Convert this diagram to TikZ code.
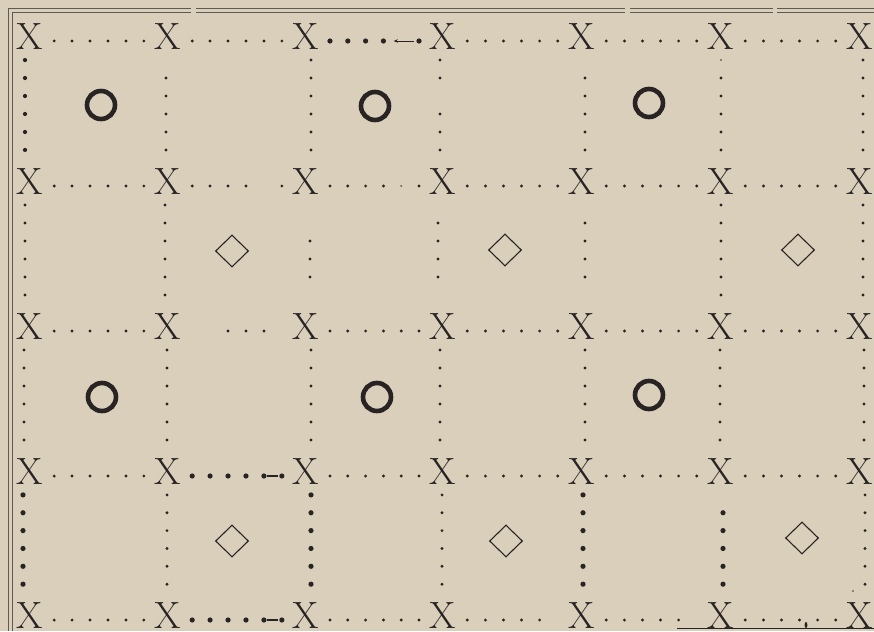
\documentclass[tikz,border=0pt]{standalone}
\usetikzlibrary{calc,arrows.meta,shapes.geometric}
\definecolor{paper}{RGB}{217,207,186}
\definecolor{ink}{RGB}{40,36,36}
\definecolor{rulecol}{RGB}{95,90,85}
% dots between two named nodes: from, to, indices, style
\newcommand\hdotline[4]{%
  \foreach \k in {#3}{\fill[#4] ($(#1)!{0.175+0.13*\k}!(#2)+(0,4)$) circle;}}
% vertical dots: from, to, indices, style, x offset
\newcommand\vdotline[5]{%
  \foreach \k in {#3}{\fill[#4] ($(#1)!{0.159+0.124*\k}!(#2)+(#5,0)$) circle;}}
\begin{document}
\begin{tikzpicture}[x=1pt,y=-1pt,
  xmark/.style={font=\fontsize{38}{40}\selectfont, inner sep=0pt, text=ink},
  ring/.style={circle, draw=ink, line width=4.6pt, minimum size=28pt, inner sep=0pt},
  lozenge/.style={diamond, draw=ink, line width=1.1pt, minimum width=33pt, minimum height=32pt, inner sep=0pt},
  dotn/.style={fill=ink, radius=1.6pt},
  dotm/.style={fill=ink, radius=2.1pt},
  dotb/.style={fill=ink, radius=2.6pt},
  dott/.style={fill=ink!60!paper, radius=1.1pt},
  border/.style={draw=rulecol, line width=0.8pt}]
\fill[paper] (0,0) rectangle (874,631);
\useasboundingbox (0,0) rectangle (874,631);
% frame
\draw[border] (8,631) -- (8,8) -- (191,8);
\draw[border] (196,8) -- (625,8);
\draw[border] (630,8) -- (773,8);
\draw[border] (777,8) -- (874,8);
\draw[border] (12,631) -- (12,12) -- (191,12);
\draw[border] (196,12) -- (625,12);
\draw[border] (630,12) -- (773,12);
\draw[border] (777,12) -- (874,12);
\draw[ink, line width=1pt] (677,628) -- (874,628);
\fill[ink] (806,625) ellipse (1.4 and 3);
% X marks
\foreach \c/\xx in {1/30,2/168,3/306,4/443,5/582,6/721,7/860}{
  \foreach \r/\yy in {1/37,2/182,3/327,4/472,5/616}{
    \node[xmark] (x\r\c) at (\xx,\yy) {X};}}
% O marks
\node[ring] (o1) at (101,105) {};
\node[ring] (o2) at (375,106) {};
\node[ring] (o3) at (649,103) {};
\node[ring] (o4) at (102,397) {};
\node[ring] (o5) at (377,397) {};
\node[ring] (o6) at (649,395) {};
% diamonds
\node[lozenge] (d1) at (232,251) {};
\node[lozenge] (d2) at (505,250) {};
\node[lozenge] (d3) at (798,250) {};
\node[lozenge] (d4) at (232,541) {};
\node[lozenge] (d5) at (506,541) {};
\node[lozenge] (d6) at (802,538) {};
% horizontal dotted rows
% row 1
\hdotline{x11}{x12}{0,...,5}{dotn}
\hdotline{x12}{x13}{0,...,5}{dotn}
\hdotline{x13}{x14}{0,1,2,3,5}{dotb}
\draw[ink, line width=0.9pt, {Stealth[length=4pt,width=3.5pt]}-] ($(x13)!0.64!(x14)+(0,4)$) -- ($(x13)!0.79!(x14)+(0,4)$);
\hdotline{x14}{x15}{0,...,5}{dotn}
\hdotline{x15}{x16}{0,...,5}{dotn}
\hdotline{x16}{x17}{0,...,5}{dotn}
% row 2
\hdotline{x21}{x22}{0,...,5}{dotn}
\hdotline{x22}{x23}{0,1,2,3,5}{dotn}
\hdotline{x23}{x24}{0,1,2,3,5}{dotn}
\hdotline{x23}{x24}{4}{dott}
\hdotline{x24}{x25}{0,...,5}{dotn}
\hdotline{x25}{x26}{0,...,5}{dotn}
\hdotline{x26}{x27}{0,...,5}{dotn}
% row 3
\hdotline{x31}{x32}{0,...,5}{dotn}
\hdotline{x32}{x33}{2,3,4}{dotn}
\hdotline{x33}{x34}{0,...,5}{dotn}
\hdotline{x34}{x35}{0,...,5}{dotn}
\hdotline{x35}{x36}{0,...,5}{dotn}
\hdotline{x36}{x37}{0,...,5}{dotn}
% row 4
\hdotline{x41}{x42}{0,...,5}{dotn}
\hdotline{x42}{x43}{0,...,5}{dotb}
\draw[ink, line width=1.2pt] ($(x42)!0.72!(x43)+(0,4)$) -- ($(x42)!0.80!(x43)+(0,4)$);
\hdotline{x43}{x44}{0,...,5}{dotn}
\hdotline{x44}{x45}{0,...,5}{dotn}
\hdotline{x45}{x46}{0,...,5}{dotn}
\hdotline{x46}{x47}{0,...,5}{dotn}
% row 5
\hdotline{x51}{x52}{0,...,5}{dotn}
\hdotline{x52}{x53}{0,...,5}{dotb}
\draw[ink, line width=1.2pt] ($(x52)!0.72!(x53)+(0,4)$) -- ($(x52)!0.80!(x53)+(0,4)$);
\hdotline{x53}{x54}{0,...,5}{dotn}
\hdotline{x54}{x55}{0,...,4}{dotn}
\hdotline{x55}{x56}{0,...,4}{dotn}
\hdotline{x56}{x57}{0,...,5}{dotn}
% vertical dotted columns
% band 1
\vdotline{x11}{x21}{0,...,5}{dotm}{-5}
\vdotline{x12}{x22}{1,...,5}{dotn}{-2}
\vdotline{x13}{x23}{0,...,5}{dotn}{5}
\vdotline{x14}{x24}{0,1,3,4,5}{dotn}{-3}
\vdotline{x15}{x25}{1,...,5}{dotn}{3}
\vdotline{x16}{x26}{1,...,5}{dotn}{0}
\vdotline{x16}{x26}{0}{dott}{0}
\vdotline{x17}{x27}{0,...,5}{dotn}{3}
% band 2
\vdotline{x21}{x31}{0,...,5}{dotn}{-5}
\vdotline{x22}{x32}{0,...,5}{dotn}{-3}
\vdotline{x23}{x33}{2,3,4}{dotn}{4}
\vdotline{x24}{x34}{1,...,4}{dotn}{-5}
\vdotline{x25}{x35}{1,...,4}{dotn}{3}
\vdotline{x26}{x36}{0,...,5}{dotn}{0}
\vdotline{x27}{x37}{0,...,5}{dotn}{3}
% band 3
\vdotline{x31}{x41}{0,...,5}{dotn}{-6}
\vdotline{x32}{x42}{0,...,5}{dotn}{-1}
\vdotline{x33}{x43}{0,...,5}{dotn}{5}
\vdotline{x34}{x44}{0,...,5}{dotn}{-3}
\vdotline{x35}{x45}{0,...,5}{dotn}{3}
\vdotline{x36}{x46}{0,...,5}{dotn}{-1}
\vdotline{x37}{x47}{0,...,5}{dotn}{4}
% band 4
\vdotline{x41}{x51}{0,...,5}{dotb}{-7}
\vdotline{x42}{x52}{0,...,5}{dotn}{-1}
\vdotline{x43}{x53}{0,...,5}{dotb}{5}
\vdotline{x44}{x54}{0,...,5}{dotn}{-1}
\vdotline{x45}{x55}{0,...,5}{dotb}{1}
\vdotline{x46}{x56}{1,...,5}{dotb}{2}
\vdotline{x47}{x57}{0,...,5}{dotn}{5}
\fill[dott] ($(x57)+(-7,-25)$) circle;
\end{tikzpicture}
\end{document}
